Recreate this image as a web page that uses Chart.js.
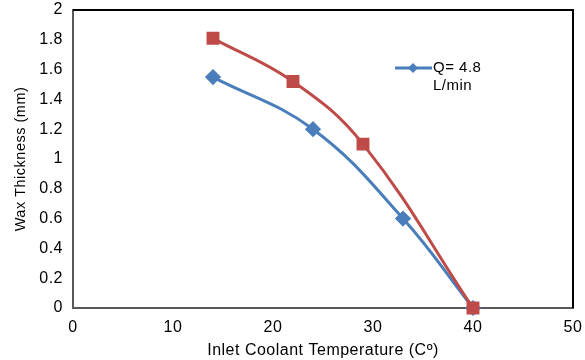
<!DOCTYPE html>
<html>
<head>
<meta charset="utf-8">
<script src="https://cdn.jsdelivr.net/npm/chart.js@4"></script>
<style>
  html, body { margin: 0; padding: 0; background: #fff; }
  #wrap { width: 585px; height: 360px; }
</style>
</head>
<body>
<div id="wrap"><canvas id="waxChart" width="585" height="360"></canvas></div>
<script>
// valores
const blueTemps = [14, 24, 33, 40];
const blueWax = [1.55, 1.2, 0.6, 0];
const redTemps = [14, 22, 29, 40];
const redWax = [1.81, 1.52, 1.1, 0];
const blueLabel = ['Q= 4.8', 'L/min'];
const xTitle = 'Inlet Coolant Temperature (C\u00BA)';
const yTitle = 'Wax Thickness (mm)';

const toPoints = (xs, ys) => xs.map((x, i) => ({ x: x, y: ys[i] }));

const font = 'Liberation Sans, Arial, sans-serif';

// texto um pouco mais espaçado, como no Excel
const spacingPlugin = {
  id: 'spacing',
  beforeInit(chart) { chart.ctx.letterSpacing = '0.5px'; },
  beforeDraw(chart) { chart.ctx.letterSpacing = '0.5px'; }
};

// borda preta e legenda dentro da área do gráfico
const framePlugin = {
  id: 'frame',
  afterDraw(chart) {
    const ctx = chart.ctx;
    const a = chart.chartArea;
    ctx.save();
    ctx.strokeStyle = '#000';
    ctx.lineWidth = 2;
    ctx.beginPath();
    ctx.moveTo(a.left, a.top);
    ctx.lineTo(a.right, a.top);
    ctx.lineTo(a.right, a.bottom);
    ctx.stroke();

    // legenda
    const lx = 395, ly = 68;
    ctx.strokeStyle = '#4A7EBB';
    ctx.lineWidth = 3;
    ctx.beginPath();
    ctx.moveTo(lx, ly);
    ctx.lineTo(lx + 37, ly);
    ctx.stroke();
    ctx.fillStyle = '#4A7EBB';
    ctx.beginPath();
    ctx.moveTo(lx + 18, ly - 5);
    ctx.lineTo(lx + 23, ly);
    ctx.lineTo(lx + 18, ly + 5);
    ctx.lineTo(lx + 13, ly);
    ctx.closePath();
    ctx.fill();
    ctx.fillStyle = '#000';
    ctx.font = '15px ' + font;
    ctx.textBaseline = 'middle';
    ctx.fillText(blueLabel[0], lx + 38, ly);
    ctx.fillText(blueLabel[1], lx + 38, ly + 18);
    ctx.restore();
  }
};

const fmt = v => String(+Number(v).toFixed(1));

const config = {
  type: 'line',
  data: {
    datasets: [{
      label: blueLabel.join(' '),
      data: toPoints(blueTemps, blueWax),
      borderColor: '#4A7EBB',
      backgroundColor: '#4A7EBB',
      borderWidth: 3,
      pointStyle: 'rectRot',
      pointRadius: 6,
      tension: 0.4,
      clip: false,
      order: 2
    }, {
      label: 'red',
      data: toPoints(redTemps, redWax),
      borderColor: '#BE4B48',
      backgroundColor: '#BE4B48',
      borderWidth: 3,
      pointStyle: 'rect',
      pointRadius: 7,
      tension: 0.4,
      clip: false,
      order: 1
    }]
  },
  options: {
    responsive: false,
    animation: false,
    layout: { padding: { left: 8, right: 12, top: 10, bottom: 0 } },
    plugins: {
      legend: { display: false },
      tooltip: { enabled: false }
    },
    scales: {
      x: {
        type: 'linear',
        min: 0,
        max: 50,
        ticks: { stepSize: 10, color: '#000', font: { family: font, size: 16 }, padding: 5, callback: fmt },
        grid: { display: false, drawOnChartArea: false, drawTicks: true, tickLength: 5, color: '#868686' },
        border: { color: '#595959', width: 2 },
        title: { display: true, text: xTitle, color: '#000', font: { family: font, size: 16 }, padding: { top: 8, bottom: 0 } },
        afterFit(scale) { scale.height = 52; scale.paddingLeft = 0; scale.paddingRight = 0; }
      },
      y: {
        min: 0,
        max: 2,
        ticks: { stepSize: 0.2, color: '#000', font: { family: font, size: 16 }, padding: 5, callback: fmt },
        grid: { display: false, drawOnChartArea: false, drawTicks: true, tickLength: 5, color: '#868686' },
        border: { color: '#595959', width: 2 },
        title: { display: true, text: yTitle, color: '#000', font: { family: font, size: 14.5 }, padding: { bottom: 2 } },
        afterFit(scale) { scale.width = 65; scale.paddingTop = 0; scale.paddingBottom = 0; }
      }
    }
  },
  plugins: [spacingPlugin, framePlugin]
};

const waxChart = new Chart(document.getElementById('waxChart'), config);
</script>
</body>
</html>
